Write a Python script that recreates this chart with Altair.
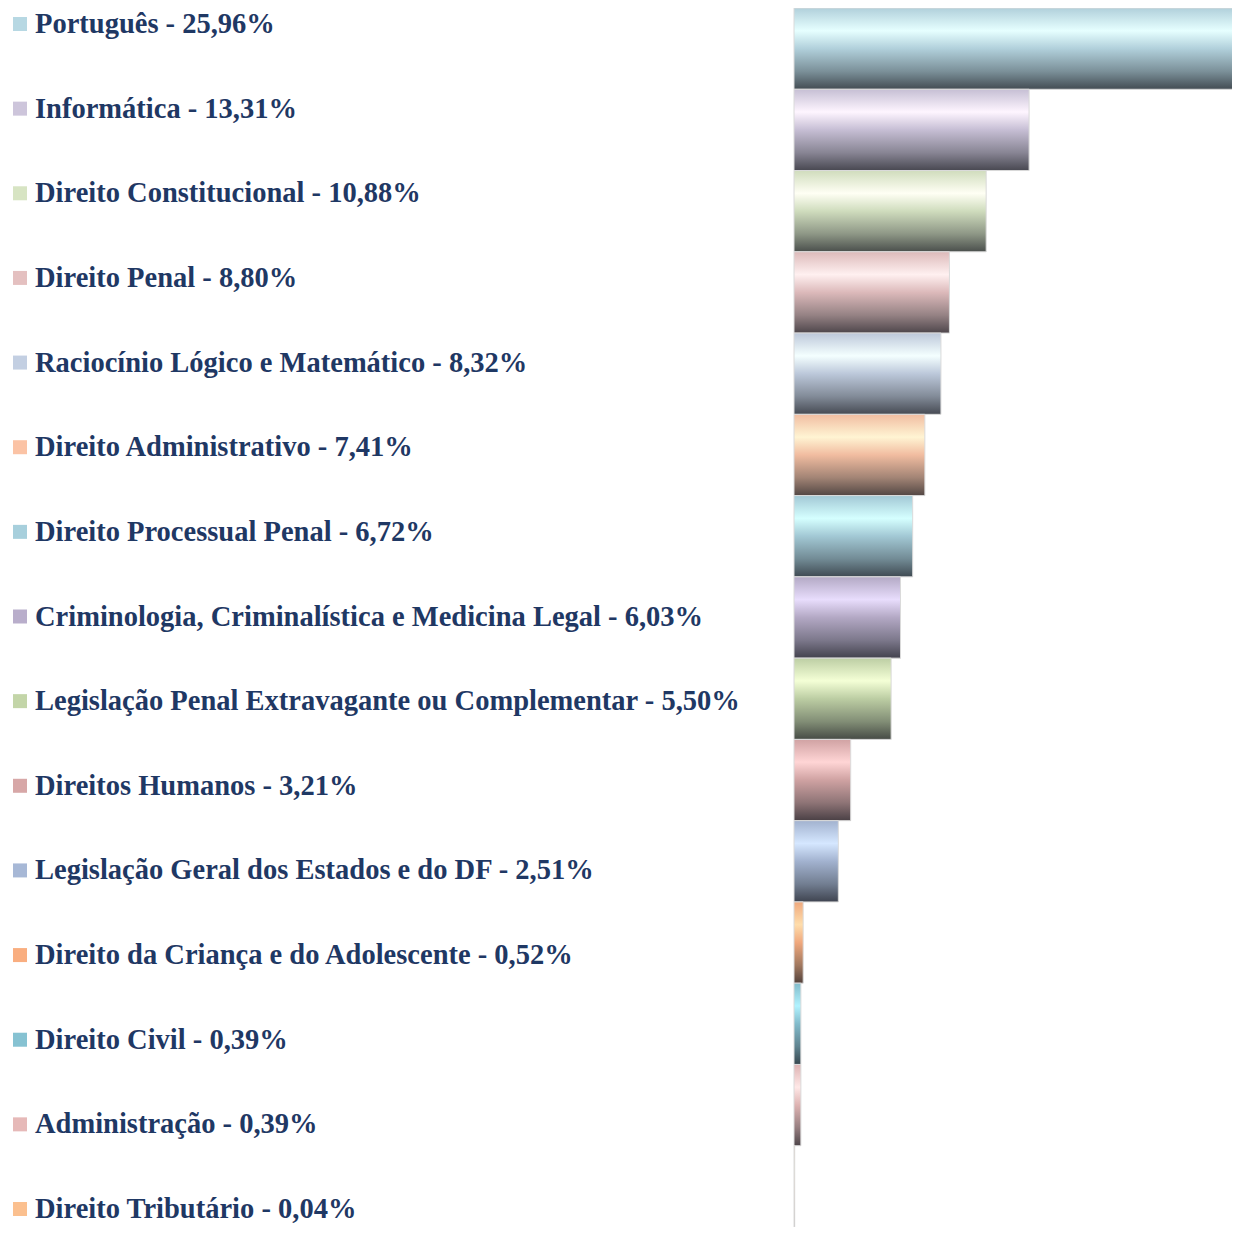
import altair as alt
import pandas as pd

subjects = [
    "Português",
    "Informática",
    "Direito Constitucional",
    "Direito Penal",
    "Raciocínio Lógico e Matemático",
    "Direito Administrativo",
    "Direito Processual Penal",
    "Criminologia, Criminalística e Medicina Legal",
    "Legislação Penal Extravagante ou Complementar",
    "Direitos Humanos",
    "Legislação Geral dos Estados e do DF",
    "Direito da Criança e do Adolescente",
    "Direito Civil",
    "Administração",
    "Direito Tributário",
]
shares = [25.96, 13.31, 10.88, 8.80, 8.32, 7.41, 6.72, 6.03, 5.50, 3.21, 2.51, 0.52, 0.39, 0.39, 0.04]
swatch_colors = [
    "#B7D8E3", "#CDC5DB", "#D7E4C3", "#E4C0C0", "#C3CFE2",
    "#FBC3A5", "#A7CFDC", "#B9AECB", "#C3D5A8", "#D7A7A7",
    "#A7B8D6", "#F9AE80", "#86C2D2", "#E6B9B8", "#FBC08F",
]

labels = [f"{s} - {v:.2f}".replace(".", ",") + "%" for s, v in zip(subjects, shares)]
df = pd.DataFrame({"subject": subjects, "share": shares, "label": labels, "swatch": swatch_colors})


def _rgb(h):
    h = h.lstrip("#")
    return [int(h[i:i + 2], 16) for i in (0, 2, 4)]


def _hex(c):
    return "#" + "".join(f"{max(0, min(255, int(round(v)))):02x}" for v in c)


def _mix(h, other, t):
    a = _rgb(h)
    return _hex([x * (1 - t) + o * t for x, o in zip(a, other)])


def _bright(h, f):
    return _hex([min(255, v * f) for v in _rgb(h)])


def bar_gradient(base):
    top = _mix(base, [90, 90, 100], 0.06)
    light = _mix(_bright(base, 1.24), [255, 255, 255], 0.12)
    mid = _mix(base, [60, 60, 70], 0.05)
    lower = _mix(base, [40, 45, 50], 0.42)
    dark = _mix(base, [30, 32, 38], 0.76)
    return alt.Gradient(
        gradient="linear", x1=0, y1=0, x2=0, y2=1,
        stops=[
            alt.GradientStop(color=top, offset=0),
            alt.GradientStop(color=light, offset=0.28),
            alt.GradientStop(color=mid, offset=0.5),
            alt.GradientStop(color=lower, offset=0.78),
            alt.GradientStop(color=dark, offset=1),
        ],
    )


W, H = 1224, 1219
x_scale = alt.Scale(domain=[0, 25.96], range=[786, 1244.5])
y_band = alt.Scale(domain=subjects, paddingInner=0, paddingOuter=0)

base = alt.Chart(df)
bar_layers = []
for s, col in zip(subjects, swatch_colors):
    bar_layers.append(
        base.transform_filter(alt.datum.subject == s)
        .mark_bar(color=bar_gradient(col), stroke="#DADADA", strokeWidth=1, clip=True)
        .encode(
            x=alt.X("share:Q", scale=x_scale, axis=None),
            y=alt.Y("subject:N", sort=subjects, scale=y_band, axis=None),
        )
    )
bars = alt.layer(*bar_layers)

y_point = alt.Scale(type="point", domain=subjects, range=[16, 1201], padding=0)
squares = base.mark_square(size=196, opacity=1).encode(
    x=alt.value(12),
    y=alt.Y("subject:N", sort=subjects, scale=y_point, axis=None),
    color=alt.Color("swatch:N", scale=None),
)
texts = base.mark_text(
    align="left", baseline="middle", font="Liberation Serif",
    fontWeight="bold", fontSize=28.5, color="#1F3864",
).encode(
    x=alt.value(27),
    y=alt.Y("subject:N", sort=subjects, scale=y_point, axis=None),
    text="label:N",
)
legend_part = alt.layer(squares, texts)

chart = (
    alt.layer(bars, legend_part)
    .resolve_scale(y="independent")
    .properties(width=W, height=H, autosize=alt.AutoSizeParams(type="none"), padding=0)
    .configure_view(stroke=None)
)

chart.save("out.html", embed_options={"renderer": "svg", "actions": False})
